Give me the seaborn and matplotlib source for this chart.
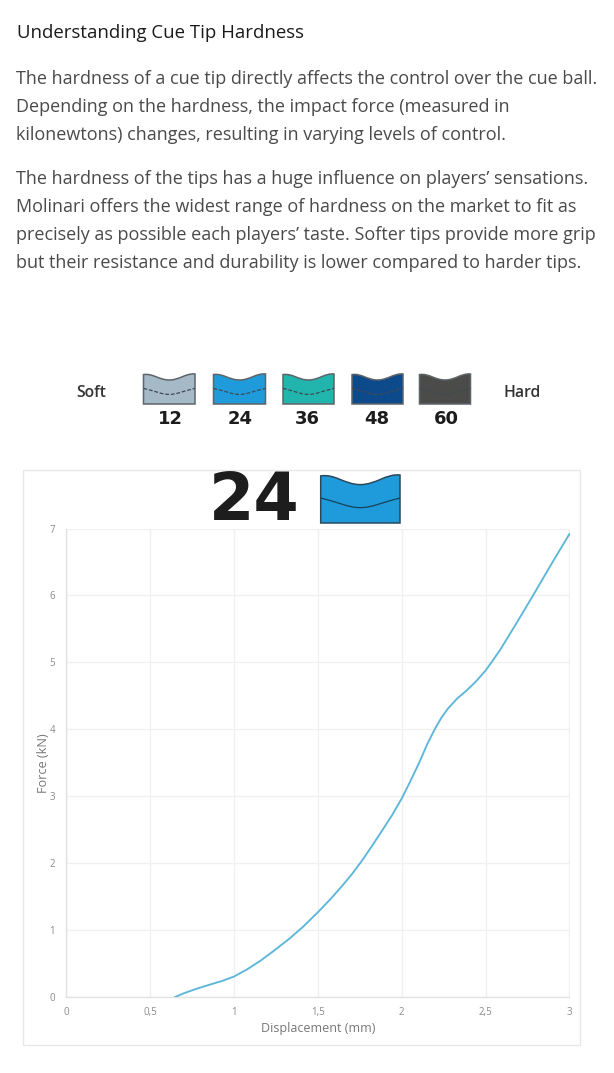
import matplotlib
matplotlib.use("Agg")
import matplotlib.pyplot as plt
from matplotlib.patches import PathPatch, Rectangle
from matplotlib.path import Path
import pandas as pd
import seaborn as sns

W, H = 614, 1073

displacement = [0.645, 0.70, 0.78, 0.85, 0.93, 1.00, 1.08, 1.16, 1.24, 1.33, 1.41, 1.50, 1.58, 1.65, 1.70,
                1.76, 1.82, 1.87, 1.94, 2.00, 2.05, 2.107, 2.15, 2.196, 2.235, 2.275, 2.33,
                2.386, 2.44, 2.50, 2.54, 2.587, 2.68, 2.785, 2.89, 3.00]
force = [0.00, 0.06, 0.13, 0.185, 0.245, 0.31, 0.42, 0.55, 0.70, 0.875, 1.05, 1.27, 1.48, 1.68, 1.83,
         2.03, 2.25, 2.44, 2.71, 2.97, 3.22, 3.52, 3.77, 4.00, 4.17, 4.31, 4.46,
         4.58, 4.71, 4.88, 5.02, 5.19, 5.57, 6.01, 6.46, 6.92]

x_ticks = [0, 0.5, 1, 1.5, 2, 2.5, 3]
x_tick_labels = ["0", "0,5", "1", "1,5", "2", "2,5", "3"]
y_ticks = [0, 1, 2, 3, 4, 5, 6, 7]

title_text = "Understanding Cue Tip Hardness"
para_one = ["The hardness of a cue tip directly affects the control over the cue ball.",
            "Depending on the hardness, the impact force (measured in",
            "kilonewtons) changes, resulting in varying levels of control."]
para_two = ["The hardness of the tips has a huge influence on players\u2019 sensations.",
            "Molinari offers the widest range of hardness on the market to fit as",
            "precisely as possible each players\u2019 taste. Softer tips provide more grip",
            "but their resistance and durability is lower compared to harder tips."]

hardness_labels = ["12", "24", "36", "48", "60"]
hardness_colors = ["#A6B9C7", "#1F9BDB", "#22B5AE", "#0C4A8C", "#4B4B49"]

sns.set_theme(style="white")
plt.rcParams["font.family"] = ["Open Sans", "DejaVu Sans"]

fig = plt.figure(figsize=(W / 100, H / 100), dpi=100, facecolor="white")


def axes_box(left, top, right, bottom):
    return [left / W, 1 - bottom / H, (right - left) / W, (bottom - top) / H]


overlay = fig.add_axes([0, 0, 1, 1], zorder=0)
overlay.set_xlim(0, W)
overlay.set_ylim(H, 0)
overlay.axis("off")

ax = fig.add_axes(axes_box(66.3, 528.5, 569.5, 997.3), zorder=1)
ax.patch.set_alpha(0)

df = pd.DataFrame({"Displacement": displacement, "Force": force})
sns.lineplot(data=df, x="Displacement", y="Force", ax=ax, color="#5DB6DA", linewidth=1.35, zorder=3)
ax.set_xlim(0, 3)
ax.set_ylim(0, 7)
ax.set_xticks(x_ticks, x_tick_labels)
ax.set_yticks(y_ticks)
ax.grid(True, color="#F0F0F0", linewidth=1)
ax.set_axisbelow(True)
ax.tick_params(axis="both", length=0, labelsize=7, labelcolor="#8C8C8C", pad=7)
ax.tick_params(axis="y", pad=8)
for name, spine in ax.spines.items():
    spine.set_visible(name in ("left", "bottom"))
    spine.set_color("#E2E2E2")
    spine.set_linewidth(1)
ax.set_xlabel("Displacement (mm)", fontsize=9, color="#777777", labelpad=3)
ax.set_ylabel("Force (kN)", fontsize=9.1, color="#777777", labelpad=0)

overlay.add_patch(Rectangle((22.5, 469.5), 557.5, 575.5, fill=False, edgecolor="#E8E8E8", linewidth=1))

overlay.text(17, 32.5, title_text, fontsize=13.4, color="#1A1A1A", va="center", ha="left")
for i, line in enumerate(para_one):
    overlay.text(16.5, 79 + i * 28, line, fontsize=12.95, color="#4A4A4A", va="center", ha="left")
for i, line in enumerate(para_two):
    overlay.text(16.5, 178.5 + i * 28, line, fontsize=12.95, color="#4A4A4A", va="center", ha="left")


def draw_tip(left, top, right, bottom, color, edge, inner, dashed):
    w, h = right - left, bottom - top
    px = lambda u, v: (left + u * w, top + v * h)
    verts = [px(0, 0.02), px(0.18, -0.03), px(0.3, 0.2), px(0.5, 0.2), px(0.7, 0.2), px(0.82, -0.03),
             px(1, 0.0), px(1, 1), px(0, 1), px(0, 0.02)]
    codes = [Path.MOVETO, Path.CURVE4, Path.CURVE4, Path.CURVE4, Path.CURVE4, Path.CURVE4, Path.CURVE4,
             Path.LINETO, Path.LINETO, Path.CLOSEPOLY]
    overlay.add_patch(PathPatch(Path(verts, codes), facecolor=color, edgecolor=edge, linewidth=1.1))
    verts2 = [px(0, 0.48), px(0.25, 0.58), px(0.35, 0.68), px(0.5, 0.68), px(0.65, 0.68), px(0.75, 0.58), px(1, 0.48)]
    codes2 = [Path.MOVETO, Path.CURVE4, Path.CURVE4, Path.CURVE4, Path.CURVE4, Path.CURVE4, Path.CURVE4]
    overlay.add_patch(PathPatch(Path(verts2, codes2), fill=False, edgecolor=inner, linewidth=0.9,
                                linestyle=(0, (3, 1.5)) if dashed else "-"))


small_left = [143.5, 213.5, 283, 352, 419.5]
small_right = [195, 265.5, 334, 403, 470.5]
label_x = [170.7, 240, 307.5, 376.5, 446]
for lab, col, l, r, lx in zip(hardness_labels, hardness_colors, small_left, small_right, label_x):
    draw_tip(l, 374, r, 404, col, "#5F6468", "#3E4A52", True)
    overlay.text(lx, 418.5, lab, fontsize=13, fontweight="bold", family="DejaVu Sans", color="#1C1C1C",
                 ha="center", va="center")

overlay.text(90.7, 393, "Soft", fontsize=11.3, fontweight="semibold", color="#333333", ha="center", va="center")
overlay.text(521.7, 393, "Hard", fontsize=11.3, fontweight="semibold", color="#333333", ha="center", va="center")

overlay.text(254.5, 501.5, hardness_labels[1], fontsize=47, fontweight="bold", family="DejaVu Sans", color="#1D1D1D",
             ha="center", va="center")
draw_tip(320.7, 475, 400, 523, hardness_colors[1], "#2A4A5C", "#17405A", False)

fig.savefig("out.png", dpi=100, facecolor="white")
